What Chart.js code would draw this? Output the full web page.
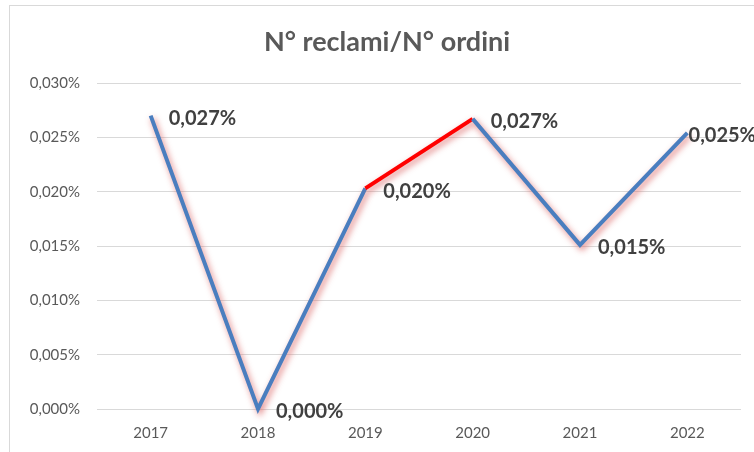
<!DOCTYPE html>
<html lang="it">
  <head>
    <meta charset="UTF-8" />
    <title>N° reclami/N° ordini</title>
    <script src="https://cdn.jsdelivr.net/npm/chart.js"></script>
    <style>
      body {
        margin: 0;
        padding: 0;
        background: #ffffff;
        overflow: hidden;
      }
      /* chart frame, runs off the right edge of the window */
      .frame {
        position: absolute;
        left: 9px;
        top: 5px;
        width: 754px;
        height: 452px;
        border: 1px solid #d9d9d9;
        background: #ffffff;
      }
      .frame canvas {
        display: block;
      }
    </style>
  </head>
  <body>
    <div class="frame">
      <canvas id="ratio-chart" width="754" height="446"></canvas>
    </div>

    <script>
      const years = ["2017", "2018", "2019", "2020", "2021", "2022"];
      // complaints / orders, in percent
      const ratioPct = [0.027, 0.0, 0.0203, 0.0267, 0.0151, 0.0254];
      const yTicks = [0, 0.005, 0.01, 0.015, 0.02, 0.025, 0.03];
      const redSegment = 2; // index of the segment 2019 -> 2020
      const chartTitle = "N° reclami/N° ordini";

      const FONT = "Lato, 'Open Sans', sans-serif";
      const fmtPct = (v) => v.toFixed(3).replace(".", ",") + "%";

      // title centred on the whole frame, not on the plot
      const frameTitle = {
        id: "frameTitle",
        afterDraw(chart) {
          const ctx = chart.ctx;
          ctx.save();
          ctx.font = "bold 27px " + FONT;
          ctx.fillStyle = "#595959";
          ctx.textAlign = "center";
          ctx.textBaseline = "middle";
          ctx.fillText(chartTitle, chart.width / 2, 36);
          ctx.restore();
        },
      };

      // soft reddish shadow under the line
      const lineShadow = {
        id: "lineShadow",
        beforeDatasetDraw(chart) {
          const ctx = chart.ctx;
          ctx.save();
          ctx.shadowColor = "rgba(220, 105, 105, 0.85)";
          ctx.shadowBlur = 6;
          ctx.shadowOffsetX = 2;
          ctx.shadowOffsetY = 3;
        },
        afterDatasetDraw(chart) {
          chart.ctx.restore();
        },
      };

      // value labels to the right of each point
      const valueLabels = {
        id: "valueLabels",
        afterDatasetsDraw(chart) {
          const ctx = chart.ctx;
          const meta = chart.getDatasetMeta(0);
          // part of the canvas that is actually on screen
          const visibleW =
            window.innerWidth - chart.canvas.getBoundingClientRect().left;
          ctx.save();
          ctx.font = "bold 20px " + FONT;
          ctx.fillStyle = "#404040";
          ctx.textBaseline = "middle";
          meta.data.forEach((pt, i) => {
            const txt = fmtPct(ratioPct[i]);
            const w = ctx.measureText(txt).width;
            const x = Math.min(pt.x + 18, visibleW - w + 2);
            ctx.fillText(txt, x, pt.y + 3);
          });
          ctx.restore();
        },
      };

      const ctx = document.getElementById("ratio-chart").getContext("2d");
      new Chart(ctx, {
        type: "line",
        data: {
          labels: years,
          datasets: [
            {
              data: ratioPct,
              borderColor: "#4a7ebf",
              borderWidth: 4,
              pointRadius: 0,
              fill: false,
              tension: 0,
              clip: false,
              segment: {
                borderColor: (c) =>
                  c.p0DataIndex === redSegment ? "#ff0000" : "#4a7ebf",
              },
            },
          ],
        },
        options: {
          responsive: false,
          animation: false,
          layout: { padding: { left: 0, right: 23, top: 77, bottom: 6 } },
          plugins: {
            legend: { display: false },
            tooltip: { enabled: false },
            title: { display: false },
          },
          scales: {
            x: {
              offset: true,
              afterFit(scale) {
                scale.height = 37;
              },
              grid: { display: false, drawTicks: false },
              border: { display: false },
              ticks: {
                color: "#595959",
                font: { family: FONT, size: 15 },
                padding: 15,
              },
            },
            y: {
              min: 0,
              max: 0.03,
              afterBuildTicks(scale) {
                scale.ticks = yTicks.map((v) => ({ value: v }));
              },
              afterFit(scale) {
                scale.width = 87;
              },
              grid: { color: "#d9d9d9", drawTicks: false },
              border: { display: false },
              ticks: {
                color: "#595959",
                font: { family: FONT, size: 15 },
                padding: 17,
                callback: (v) => fmtPct(v),
              },
            },
          },
        },
        plugins: [lineShadow, valueLabels, frameTitle],
      });
    </script>
  </body>
</html>
